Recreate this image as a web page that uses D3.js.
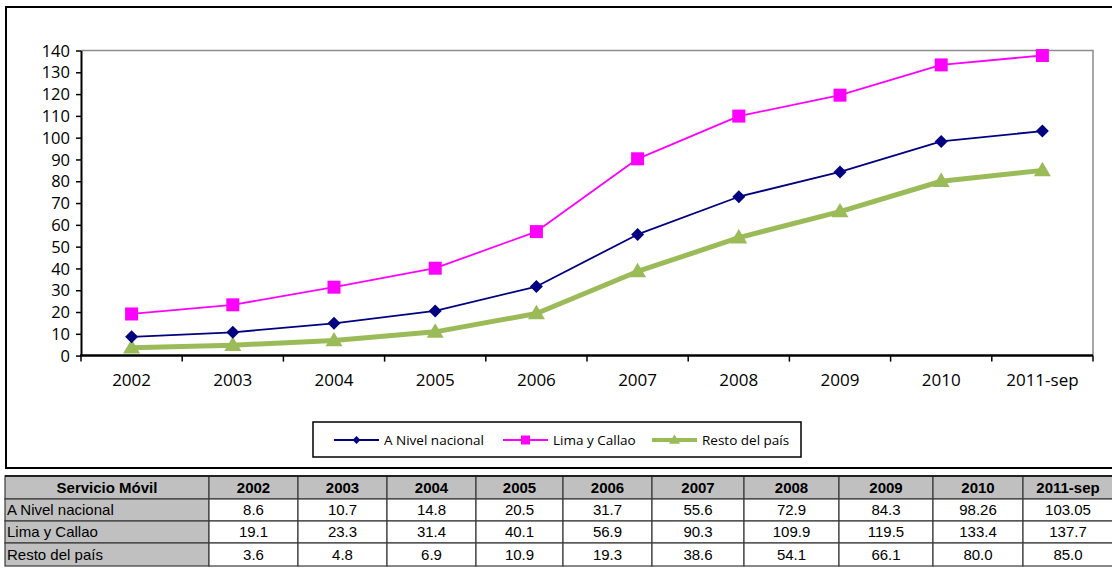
<!DOCTYPE html>
<html><head><meta charset="utf-8">
<script src="https://cdn.jsdelivr.net/npm/d3@7"></script>
<style>html,body{margin:0;padding:0;background:#fff;}svg{display:block;}</style>
</head><body>
<svg id="c" width="1112" height="569"></svg>
<script>
const categories = ["2002","2003","2004","2005","2006","2007","2008","2009","2010","2011-sep"];
const nacional = [8.6,10.7,14.8,20.5,31.7,55.6,72.9,84.3,98.26,103.05];
const lima = [19.1,23.3,31.4,40.1,56.9,90.3,109.9,119.5,133.4,137.7];
const resto = [3.6,4.8,6.9,10.9,19.3,38.6,54.1,66.1,80.0,85.0];
const nacionalLabels = ["8.6","10.7","14.8","20.5","31.7","55.6","72.9","84.3","98.26","103.05"];
const limaLabels = ["19.1","23.3","31.4","40.1","56.9","90.3","109.9","119.5","133.4","137.7"];
const restoLabels = ["3.6","4.8","6.9","10.9","19.3","38.6","54.1","66.1","80.0","85.0"];
const yTicks = [0,10,20,30,40,50,60,70,80,90,100,110,120,130,140];
const seriesNames = ["A Nivel nacional","Lima y Callao","Resto del país"];
const tableHeader = "Servicio Móvil";

const series = [
  {name: seriesNames[0], values: nacional, labels: nacionalLabels, color: "#000080", width: 1.8, marker: "diamond", size: 13},
  {name: seriesNames[1], values: lima, labels: limaLabels, color: "#ff00ff", width: 1.8, marker: "square", size: 13},
  {name: seriesNames[2], values: resto, labels: restoLabels, color: "#9bbb59", width: 5, marker: "triangle", size: 17}
];

const svg = d3.select("#c");
const font = "'Open Sans', 'Liberation Sans', sans-serif";

// outer chart frame
svg.append("rect").attr("x",6).attr("y",7).attr("width",1112).attr("height",461)
  .attr("fill","#fff").attr("stroke","#000").attr("stroke-width",2);

const L = 81, R = 1093, T = 50.5, B = 355.6;
const x = d3.scaleBand().domain(categories).range([L,R]).padding(0);
const y = d3.scaleLinear().domain([0,140]).range([B,T]);

// plot border (top/right gray)
svg.append("path").attr("d",`M${L},${T}H${R}V${B}`).attr("fill","none")
  .attr("stroke","#8c8c8c").attr("stroke-width",1.5);

// y axis
const yAxis = d3.axisLeft(y).tickValues(yTicks).tickSize(5).tickPadding(6).tickSizeOuter(0);
const gy = svg.append("g").attr("transform",`translate(${L},0)`).call(yAxis);
gy.select(".domain").attr("stroke","#000").attr("stroke-width",2);
gy.selectAll(".tick line").attr("stroke","#000").attr("stroke-width",1.5);
gy.selectAll("text").attr("font-family",font).attr("font-size",16.5).attr("fill","#000").attr("dy","0.34em");

// x axis
const gx = svg.append("g").attr("transform",`translate(0,${B})`);
gx.append("line").attr("x1",L-1).attr("x2",R).attr("y1",0).attr("y2",0).attr("stroke","#000").attr("stroke-width",2.5);
const edges = categories.map(c => x(c)).concat([R]);
gx.selectAll("line.t").data(edges).join("line").attr("class","t")
  .attr("x1",d=>d).attr("x2",d=>d).attr("y1",0).attr("y2",6).attr("stroke","#000").attr("stroke-width",1.5);
gx.selectAll("text").data(categories).join("text")
  .attr("x",d=>x(d)+x.bandwidth()/2).attr("y",25).attr("dy","0.34em")
  .attr("text-anchor","middle").attr("font-family",font).attr("font-size",17).text(d=>d);

function marker(g, type, size, color) {
  if (type === "diamond") {
    const s = size/2;
    g.append("path").attr("d",`M0,${-s}L${s},0L0,${s}L${-s},0Z`).attr("fill",color);
  } else if (type === "square") {
    g.append("rect").attr("x",-size/2).attr("y",-size/2).attr("width",size).attr("height",size).attr("fill",color);
  } else {
    const h = size*0.85;
    g.append("path").attr("d",`M0,${-h*0.6}L${size/2},${h*0.4}L${-size/2},${h*0.4}Z`).attr("fill",color);
  }
}

const line = d3.line().x((d,i)=>x(categories[i])+x.bandwidth()/2).y(d=>y(d));
// draw order: green, navy, magenta
[series[2], series[0], series[1]].forEach(s => {
  svg.append("path").datum(s.values).attr("d",line).attr("fill","none")
    .attr("stroke",s.color).attr("stroke-width",s.width).attr("stroke-linejoin","round");
  s.values.forEach((v,i) => {
    const g = svg.append("g").attr("transform",`translate(${x(categories[i])+x.bandwidth()/2},${y(v)})`);
    marker(g, s.marker, s.size, s.color);
  });
});

// legend
svg.append("rect").attr("x",313).attr("y",422).attr("width",488).attr("height",35)
  .attr("fill","#fff").attr("stroke","#000").attr("stroke-width",1.5);
const legX = [334, 503, 652];
series.forEach((s,i) => {
  const g = svg.append("g").attr("transform",`translate(${legX[i]},440)`);
  g.append("line").attr("x1",0).attr("x2",45).attr("stroke",s.color).attr("stroke-width", i===2?4:1.8);
  const m = g.append("g").attr("transform","translate(22.5,0)");
  marker(m, s.marker, i===2?11:(i===1?9:8), s.color);
  g.append("text").attr("x",50).attr("y",0).attr("dy","0.35em").attr("font-family",font)
    .attr("font-size",13.5).text(s.name);
});

// data table
const colEdges = [5,209,298,387,476,563,652,744,839,933,1023,1113];
const rowEdges = [476,499,521,543,566];
const tfont = "'Liberation Sans Narrow', 'Liberation Sans', sans-serif";
const rows = [[tableHeader].concat(categories)].concat(series.map(s => [s.name].concat(s.labels)));
rows.forEach((r,ri) => {
  r.forEach((cell,ci) => {
    const x0 = colEdges[ci], x1 = colEdges[ci+1], y0 = rowEdges[ri], y1 = rowEdges[ri+1];
    const gray = ri===0 || ci===0;
    svg.append("rect").attr("x",x0).attr("y",y0).attr("width",x1-x0).attr("height",y1-y0)
      .attr("fill", gray ? "#c0c0c0" : "#fff").attr("stroke","#3a3a3a").attr("stroke-width",1.2);
    const left = ci===0 && ri>0;
    svg.append("text").attr("x", left ? x0+2 : (x0+x1)/2).attr("y",(y0+y1)/2).attr("dy","0.36em")
      .attr("text-anchor", left ? "start" : "middle")
      .attr("font-family",tfont).attr("font-size",15)
      .attr("font-weight", ri===0 ? "bold" : "normal").text(cell);
  });
});
svg.append("line").attr("x1",5).attr("x2",1112).attr("y1",476).attr("y2",476).attr("stroke","#222").attr("stroke-width",2);
</script>
</body></html>
